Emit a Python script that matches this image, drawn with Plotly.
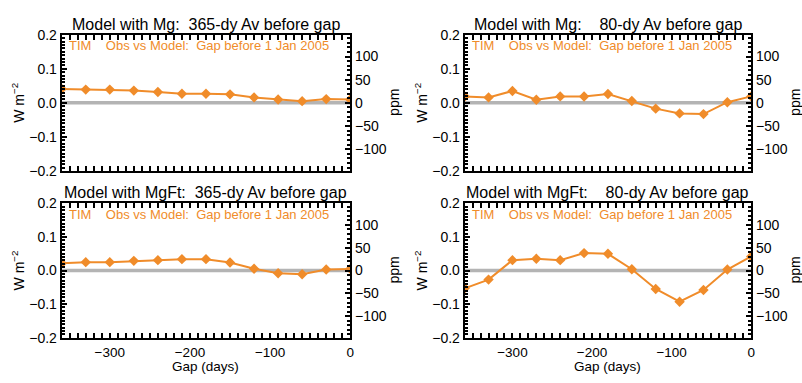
import plotly.graph_objects as go

gap_days = [-360, -330, -300, -270, -240, -210, -180, -150, -120, -90, -60, -30, 0]

mg_365 = [0.041, 0.039, 0.039, 0.036, 0.032, 0.027, 0.027, 0.025, 0.016, 0.010, 0.005, 0.011, 0.010]
mg_80 = [0.0185, 0.016, 0.035, 0.009, 0.019, 0.0185, 0.026, 0.0055, -0.017, -0.031, -0.033, 0.002, 0.019]
mgft_365 = [0.022, 0.025, 0.025, 0.029, 0.031, 0.034, 0.034, 0.024, 0.0055, -0.008, -0.011, 0.003, 0.005]
mgft_80 = [-0.053, -0.027, 0.031, 0.035, 0.031, 0.052, 0.050, 0.004, -0.055, -0.093, -0.058, 0.003, 0.042]

titles = ["Model with Mg:  365-dy Av before gap",
          "Model with Mg:    80-dy Av before gap",
          "Model with MgFt:  365-dy Av before gap",
          "Model with MgFt:    80-dy Av before gap"]
series = [mg_365, mg_80, mgft_365, mgft_80]
note = "TIM    Obs vs Model:  Gap before 1 Jan 2005"

TSI = 1361.0
ORANGE = "#F08C2A"
FONT = "Liberation Sans"
W, H = 802, 383

# panel frames in pixels: (x0, x1, y_top, y_bottom)
frames = [(62, 352, 28, 170), (467, 755, 28, 170),
          (62, 352, 204, 344), (467, 755, 204, 344)]

fig = go.Figure()
layout = dict(width=W, height=H, margin=dict(l=0, r=0, t=0, b=0),
              paper_bgcolor="white", plot_bgcolor="white",
              showlegend=False, font=dict(family=FONT, size=14, color="black"))
annotations = []
shapes = []

for i, (vals, ttl, fr) in enumerate(zip(series, titles, frames)):
    n = i + 1
    xa = "xaxis" if n == 1 else f"xaxis{n}"
    ya = "yaxis" if n == 1 else f"yaxis{n}"
    ya2 = f"yaxis{n + 4}"
    xr = "x" if n == 1 else f"x{n}"
    yr = "y" if n == 1 else f"y{n}"
    yr2 = f"y{n + 4}"
    x0, x1, yt, yb = fr
    dx = [x0 / W, x1 / W]
    dy = [1 - yb / H, 1 - yt / H]
    bottom = i >= 2

    layout[xa] = dict(domain=dx, anchor=yr, range=[-360, 0],
                      tickvals=[-300, -200, -100, 0], showticklabels=bottom,
                      ticks="inside", ticklen=5, tickcolor="black", tickwidth=1.5,
                      showline=True, linecolor="black", linewidth=2,
                      mirror="allticks", showgrid=False, zeroline=False,
                      ticklabelstandoff=1,
                      minor=dict(ticks="inside", dtick=10, ticklen=3, tickcolor="black", showgrid=False),
                      tickfont=dict(size=13.5))
    layout[ya] = dict(domain=dy, anchor=xr, range=[-0.2, 0.2],
                      tickvals=[-0.2, -0.1, 0.0, 0.1, 0.2], ticktext=["−0.2", "−0.1", "0.0", "0.1", "0.2"],
                      ticks="inside", ticklen=5, tickcolor="black", tickwidth=1.5,
                      showline=True, linecolor="black", linewidth=2,
                      mirror=False, showgrid=False, zeroline=False,
                      minor=dict(ticks="inside", dtick=0.01, ticklen=3, tickcolor="black", showgrid=False),
                      tickfont=dict(size=14))
    layout[ya2] = dict(overlaying=yr, anchor=xr, side="right",
                       range=[-0.2 / TSI * 1e6, 0.2 / TSI * 1e6],
                       tickvals=[-100, -50, 0, 50, 100],
                       ticks="inside", ticklen=5, tickcolor="black", tickwidth=1.5,
                       showline=True, linecolor="black", linewidth=2,
                       showgrid=False, zeroline=False,
                       minor=dict(ticks="inside", dtick=10, ticklen=3, tickcolor="black", showgrid=False),
                       tickfont=dict(size=14))

    shapes.append(dict(type="line", xref=f"{xr} domain", yref=yr, x0=0, x1=1, y0=0, y1=0,
                       line=dict(color="#B4B4B4", width=3.5), layer="below"))

    fig.add_trace(go.Scatter(x=gap_days, y=vals, xaxis=xr, yaxis=yr, mode="lines+markers",
                             line=dict(color=ORANGE, width=2),
                             marker=dict(color=ORANGE, size=8, symbol="diamond")))
    # same series in ppm on the right-hand axis (invisible, keeps that axis active)
    fig.add_trace(go.Scatter(x=gap_days, y=[v / TSI * 1e6 for v in vals], xaxis=xr, yaxis=yr2,
                             mode="lines", line=dict(width=0), opacity=0, hoverinfo="skip"))

    cx = (dx[0] + dx[1]) / 2
    annotations.append(dict(text=ttl, xref="paper", yref="paper", x=cx, y=1 - (yt - 11) / H,
                            showarrow=False, font=dict(size=16, family=FONT, color="black"),
                            xanchor="center", yanchor="middle"))
    annotations.append(dict(text=note, xref="paper", yref="paper", x=(x0 + 5) / W, y=1 - (yt + 11) / H,
                            showarrow=False, font=dict(size=13, family=FONT, color=ORANGE),
                            xanchor="left", yanchor="middle"))
    annotations.append(dict(text="W m<sup>−2</sup>", xref="paper", yref="paper",
                            x=(x0 - 44) / W, y=1 - ((yt + yb) / 2) / H, textangle=-90,
                            showarrow=False, font=dict(size=14, family=FONT, color="black"),
                            xanchor="center", yanchor="middle"))
    annotations.append(dict(text="ppm", xref="paper", yref="paper",
                            x=(x1 + 44) / W, y=1 - ((yt + yb) / 2) / H, textangle=-90,
                            showarrow=False, font=dict(size=14, family=FONT, color="black"),
                            xanchor="center", yanchor="middle"))
    if bottom:
        annotations.append(dict(text="Gap (days)", xref="paper", yref="paper",
                                x=cx, y=0, showarrow=False,
                                font=dict(size=13.5, family=FONT, color="black"),
                                xanchor="center", yanchor="bottom", borderpad=0))

layout["annotations"] = annotations
layout["shapes"] = shapes
fig.update_layout(**layout)
fig.write_html("out.html")
